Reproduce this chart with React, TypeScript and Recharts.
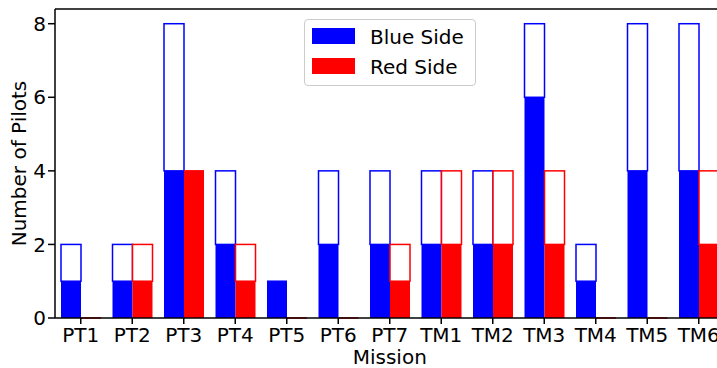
import { BarChart, Bar, XAxis, YAxis, Legend, ReferenceLine, Label } from "recharts";

const missions = ["PT1", "PT2", "PT3", "PT4", "PT5", "PT6", "PT7", "TM1", "TM2", "TM3", "TM4", "TM5", "TM6"];
const blueTotal = [2, 2, 8, 4, 1, 4, 4, 4, 4, 8, 2, 8, 8];
const blueFilled = [1, 1, 4, 2, 1, 2, 2, 2, 2, 6, 1, 4, 4];
const redTotal = [0, 2, 4, 2, 0, 0, 2, 4, 4, 4, 0, 0, 4];
const redFilled = [0, 1, 4, 1, 0, 0, 1, 2, 2, 2, 0, 0, 2];
const yTicks = [0, 2, 4, 6, 8];

const BLUE = "#0000ff";
const RED = "#ff0000";
const FONT = "'DejaVu Sans', sans-serif";

// filled part + the rest of the total stacked on top (drawn as an outline)
const data = missions.map((m, i) => ({
  mission: m,
  blueFilled: blueFilled[i],
  blueRest: blueTotal[i] - blueFilled[i],
  redFilled: redFilled[i],
  redRest: redTotal[i] - redFilled[i],
}));

const OutlineBar = (props: any) => {
  const { x, y, width, height, stroke } = props;
  if (!height) {
    return <line x1={x} x2={x + width} y1={y} y2={y} stroke={stroke} strokeWidth={1.5} />;
  }
  return (
    <rect
      x={x}
      y={y}
      width={width}
      height={Math.abs(height)}
      fill="#fff"
      stroke={stroke}
      strokeWidth={1.5}
    />
  );
};

const renderLegend = (props: any) => {
  const items = (props.payload || []).filter((p: any) => p.type !== "none");
  return (
    <div
      style={{
        position: "relative",
        width: 172,
        height: 67,
        boxSizing: "border-box",
        border: "1px solid #cccccc",
        borderRadius: 4,
        background: "rgba(255,255,255,0.8)",
        fontFamily: FONT,
        fontSize: 20,
      }}
    >
      {items.map((entry: any, i: number) => (
        <div key={entry.value}>
          <span
            style={{
              position: "absolute",
              left: 7,
              top: 7.5 + i * 30,
              width: 43,
              height: 16,
              background: entry.color,
            }}
          />
          <span
            style={{
              position: "absolute",
              left: 65,
              top: 6.5 + i * 30,
              lineHeight: "20px",
              color: "#000",
              whiteSpace: "nowrap",
            }}
          >
            {entry.value}
          </span>
        </div>
      ))}
    </div>
  );
};

export default function App() {
  return (
    <div
      style={{
        position: "fixed",
        left: 0,
        top: 0,
        width: 717,
        height: 368,
        overflow: "hidden",
        background: "#fff",
      }}
    >
      <BarChart
        width={730}
        height={368}
        data={data}
        margin={{ top: 9, right: 5.5, bottom: 0, left: 0 }}
        barGap={0}
        barSize={20}
        style={{ fontFamily: FONT }}
      >
        <XAxis
          dataKey="mission"
          interval={0}
          height={50}
          tickSize={6}
          tickMargin={4}
          tick={{ fill: "#000", fontSize: 20 }}
          axisLine={{ stroke: "#000", strokeWidth: 1.5 }}
          tickLine={{ stroke: "#000", strokeWidth: 1.5 }}
        >
          <Label value="Mission" position="insideBottom" offset={4} fill="#000" fontSize={20} />
        </XAxis>
        <YAxis
          width={55}
          domain={[0, 8.4]}
          ticks={yTicks}
          tickSize={7}
          tickMargin={2}
          tick={{ fill: "#000", fontSize: 20 }}
          axisLine={{ stroke: "#000", strokeWidth: 1.5 }}
          tickLine={{ stroke: "#000", strokeWidth: 1.5 }}
        >
          <Label
            content={() => (
              <text
                x={26}
                y={163.5}
                transform="rotate(-90, 26, 163.5)"
                textAnchor="middle"
                fill="#000"
                fontSize={20}
                fontFamily={FONT}
              >
                Number of Pilots
              </text>
            )}
          />
        </YAxis>
        <ReferenceLine y={8.4} stroke="#000" strokeWidth={1.5} />
        <Legend
          layout="horizontal"
          verticalAlign="middle"
          align="center"
          content={renderLegend}
          wrapperStyle={{ left: 304, top: 19, width: 172, height: 67 }}
        />
        <Bar dataKey="blueFilled" name="Blue Side" stackId="blue" fill={BLUE} isAnimationActive={false} />
        <Bar
          dataKey="blueRest"
          stackId="blue"
          stroke={BLUE}
          fill="#fff"
          legendType="none"
          shape={OutlineBar}
          isAnimationActive={false}
        />
        <Bar dataKey="redFilled" name="Red Side" stackId="red" fill={RED} isAnimationActive={false} />
        <Bar
          dataKey="redRest"
          stackId="red"
          stroke={RED}
          fill="#fff"
          legendType="none"
          shape={OutlineBar}
          isAnimationActive={false}
        />
      </BarChart>
    </div>
  );
}
